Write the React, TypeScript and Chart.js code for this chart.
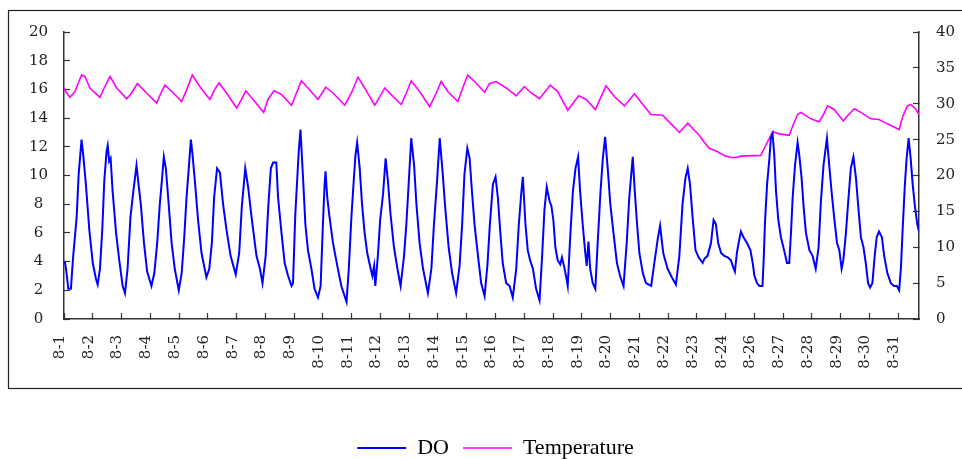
import React, { useEffect, useRef } from "react";
import { Chart, registerables } from "chart.js";

Chart.register(...registerables);

// Category (day) tick labels — note 8-25 is absent on the original axis
const dayLabels = [
  "8-1", "8-2", "8-3", "8-4", "8-5", "8-6", "8-7", "8-8", "8-9", "8-10",
  "8-11", "8-12", "8-13", "8-14", "8-15", "8-16", "8-17", "8-18", "8-19", "8-20",
  "8-21", "8-22", "8-23", "8-24", "8-26", "8-27", "8-28", "8-29", "8-30", "8-31",
];

const seriesNames = ["DO", "Temperature"];

// DO readings: [day position, value] (left axis)
const doPoints: [number, number][] = [
  [0, 3.9], [0.03, 4.0], [0.07, 3.5], [0.15, 2.1], [0.24, 2.1], [0.32, 4.4], [0.44, 7.1], [0.51, 10.1], [0.61, 12.5], [0.67, 11.4], [0.76, 9.4], [0.88, 6.2],
  [1.0, 3.9], [1.11, 2.8], [1.17, 2.4], [1.25, 3.5], [1.33, 6.2], [1.4, 9.6], [1.48, 11.7], [1.52, 12.1], [1.57, 11.0], [1.62, 11.2], [1.69, 8.9], [1.81, 6.0], [1.92, 4.1],
  [2.04, 2.3], [2.12, 1.8], [2.21, 3.5], [2.31, 7.1], [2.41, 8.9], [2.52, 10.7], [2.59, 9.4], [2.67, 8.0], [2.78, 5.3], [2.89, 3.3],
  [3.04, 2.3], [3.14, 3.2], [3.24, 5.3], [3.33, 8.0], [3.4, 9.6], [3.47, 11.3], [3.54, 10.5], [3.62, 8.5], [3.74, 5.3], [3.85, 3.5], [3.99, 2.0],
  [4.09, 3.2], [4.18, 5.7], [4.26, 8.5], [4.33, 10.3], [4.41, 12.5], [4.47, 11.4], [4.55, 9.6], [4.66, 6.9], [4.78, 4.6], [4.95, 2.9],
  [5.05, 3.5], [5.14, 5.3], [5.22, 8.5], [5.32, 10.5], [5.42, 10.2], [5.53, 8.0], [5.65, 6.2], [5.79, 4.4], [5.97, 3.1],
  [6.09, 4.6], [6.18, 7.8], [6.3, 10.5], [6.4, 9.2], [6.52, 7.1], [6.69, 4.4], [6.81, 3.5], [6.9, 2.5],
  [7.01, 4.4], [7.1, 7.8], [7.19, 10.5], [7.27, 10.9], [7.38, 10.9], [7.44, 8.5], [7.56, 6.0], [7.67, 3.9], [7.79, 3.0], [7.91, 2.3], [7.96, 2.5],
  [8.04, 7.3], [8.16, 11.7], [8.22, 13.2], [8.31, 9.8], [8.39, 6.6], [8.48, 4.8], [8.6, 3.5], [8.71, 2.1], [8.83, 1.5], [8.92, 2.3],
  [9.0, 6.6], [9.06, 9.4], [9.09, 10.3], [9.15, 8.5], [9.23, 7.1], [9.35, 5.3], [9.5, 3.7], [9.64, 2.3], [9.82, 1.2], [9.9, 3.5], [9.99, 7.1],
  [10.07, 9.6], [10.13, 11.4], [10.19, 12.3], [10.28, 10.5], [10.36, 8.0], [10.45, 6.0], [10.54, 4.6], [10.66, 3.5], [10.72, 3.0], [10.78, 3.7], [10.82, 2.3], [10.91, 4.4], [10.99, 6.9],
  [11.09, 8.7], [11.18, 11.2], [11.26, 9.6], [11.35, 7.3], [11.47, 5.0], [11.59, 3.5], [11.7, 2.3], [11.82, 4.4], [11.9, 6.6], [11.98, 9.4],
  [12.07, 12.6], [12.17, 10.7], [12.25, 8.0], [12.36, 5.3], [12.48, 3.5], [12.65, 1.8], [12.77, 3.5], [12.86, 6.6], [12.96, 9.4],
  [13.06, 12.6], [13.15, 10.5], [13.25, 7.8], [13.37, 5.0], [13.49, 3.2], [13.63, 1.8], [13.75, 3.7], [13.84, 6.6], [13.92, 10.1],
  [14.02, 11.9], [14.1, 11.2], [14.18, 8.9], [14.27, 6.6], [14.39, 4.4], [14.5, 2.5], [14.62, 1.6], [14.72, 3.8], [14.8, 6.5], [14.91, 9.4],
  [15.0, 9.9], [15.08, 8.5], [15.16, 6.2], [15.25, 3.9], [15.37, 2.5], [15.49, 2.3], [15.6, 1.5], [15.72, 3.5], [15.81, 6.6], [15.9, 8.9], [15.95, 9.9],
  [16.04, 6.6], [16.12, 4.8], [16.2, 4.1], [16.3, 3.5], [16.41, 2.1], [16.53, 1.3], [16.62, 4.4], [16.7, 7.6], [16.78, 9.2], [16.88, 8.2], [16.94, 7.9],
  [17.01, 6.9], [17.08, 5.0], [17.16, 4.1], [17.25, 3.8], [17.31, 4.3], [17.39, 3.6], [17.45, 3.0], [17.51, 2.3], [17.59, 5.5], [17.69, 8.9], [17.78, 10.5], [17.87, 11.3], [17.94, 8.9],
  [18.03, 6.6], [18.11, 4.8], [18.17, 3.7], [18.23, 5.4], [18.29, 3.5], [18.38, 2.5], [18.47, 2.1], [18.55, 5.3], [18.65, 8.9], [18.73, 11.2], [18.81, 12.7], [18.9, 10.5], [18.99, 8.0],
  [19.1, 6.0], [19.22, 3.9], [19.33, 3.0], [19.45, 2.3], [19.56, 5.3], [19.65, 8.5], [19.77, 11.3], [19.84, 8.9], [19.92, 6.6],
  [20.0, 4.6], [20.12, 3.2], [20.23, 2.5], [20.41, 2.3], [20.52, 3.9], [20.64, 5.6], [20.72, 6.5], [20.83, 4.6], [20.98, 3.5],
  [21.13, 2.9], [21.27, 2.4], [21.39, 4.4], [21.5, 8.0], [21.6, 9.8], [21.68, 10.5], [21.76, 9.4], [21.85, 7.1], [21.95, 4.8],
  [22.06, 4.3], [22.2, 3.9], [22.26, 4.2], [22.37, 4.4], [22.49, 5.3], [22.58, 6.9], [22.66, 6.6], [22.74, 5.3], [22.84, 4.6], [22.95, 4.4],
  [23.07, 4.3], [23.18, 4.1], [23.28, 3.5], [23.32, 3.3], [23.39, 4.6], [23.45, 5.3], [23.53, 6.1], [23.62, 5.7], [23.74, 5.3], [23.86, 4.8], [23.94, 3.9],
  [24.0, 3.0], [24.09, 2.5], [24.17, 2.3], [24.28, 2.3], [24.32, 4.1], [24.37, 6.9], [24.44, 9.4], [24.52, 11.2], [24.57, 12.6], [24.63, 12.9], [24.69, 11.4], [24.75, 8.9], [24.83, 6.9], [24.92, 5.7],
  [25.03, 4.8], [25.13, 3.9], [25.21, 3.9], [25.27, 6.0], [25.33, 8.5], [25.41, 10.7], [25.5, 12.3], [25.56, 11.4], [25.64, 9.8], [25.71, 7.8], [25.79, 6.0], [25.91, 4.8],
  [26.02, 4.4], [26.13, 3.5], [26.23, 5.0], [26.31, 8.2], [26.4, 10.7], [26.52, 12.6], [26.6, 10.7], [26.68, 8.9], [26.77, 7.1], [26.87, 5.3], [26.95, 4.8],
  [27.03, 3.5], [27.09, 4.1], [27.18, 6.0], [27.26, 8.2], [27.35, 10.5], [27.44, 11.3], [27.53, 9.8], [27.61, 7.8], [27.7, 5.7], [27.79, 5.0], [27.87, 3.9], [27.95, 2.5],
  [28.02, 2.2], [28.1, 2.5], [28.18, 4.4], [28.25, 5.7], [28.33, 6.1], [28.43, 5.7], [28.51, 4.4], [28.62, 3.2], [28.74, 2.5], [28.85, 2.3], [28.95, 2.3],
  [29.03, 2.0], [29.09, 3.5], [29.16, 6.6], [29.23, 9.4], [29.29, 11.2], [29.36, 12.6], [29.43, 11.2], [29.5, 9.4], [29.57, 8.0], [29.66, 6.6], [29.72, 6.1],
];

// Temperature readings: [day position, value] (right axis)
const tempPoints: [number, number][] = [
  [0, 32.2], [0.09, 31.5], [0.21, 30.9], [0.38, 31.7], [0.61, 34.0], [0.73, 33.8], [0.9, 32.2],
  [1.25, 30.9], [1.42, 32.4], [1.6, 33.8], [1.83, 32.2], [2.18, 30.7], [2.35, 31.5], [2.55, 32.8], [2.87, 31.5],
  [3.22, 30.1], [3.37, 31.5], [3.51, 32.6], [3.8, 31.5], [4.09, 30.3], [4.26, 31.9], [4.46, 34.0], [4.72, 32.4],
  [5.07, 30.6], [5.24, 32.0], [5.39, 32.9], [5.65, 31.5], [6.0, 29.4], [6.17, 30.6], [6.32, 31.8], [6.57, 30.6],
  [6.94, 28.8], [7.09, 30.6], [7.3, 31.8], [7.56, 31.3], [7.91, 29.8], [8.08, 31.5], [8.25, 33.2], [8.48, 32.2],
  [8.83, 30.6], [9.1, 32.3], [9.35, 31.5], [9.76, 29.8], [9.99, 31.5], [10.22, 33.7], [10.45, 32.2], [10.8, 29.8],
  [10.98, 31.0], [11.15, 32.2], [11.44, 31.0], [11.72, 29.9], [11.9, 31.5], [12.07, 33.2], [12.36, 31.7],
  [12.71, 29.6], [12.94, 31.5], [13.11, 33.1], [13.34, 31.7], [13.69, 30.3], [13.86, 32.2], [14.03, 34.0],
  [14.27, 33.1], [14.62, 31.6], [14.79, 32.8], [15.02, 33.1], [15.37, 32.2], [15.72, 31.1], [16.0, 32.4],
  [16.24, 31.5], [16.53, 30.7], [16.9, 32.6], [17.16, 31.7], [17.51, 29.1], [17.89, 31.1], [18.15, 30.6],
  [18.47, 29.2], [18.67, 31.0], [18.84, 32.5], [19.13, 31.0], [19.48, 29.7], [19.83, 31.4], [20.12, 29.9],
  [20.4, 28.5], [20.81, 28.4], [21.1, 27.2], [21.39, 26.0], [21.68, 27.3], [22.08, 25.6], [22.26, 24.6],
  [22.43, 23.8], [22.72, 23.3], [22.95, 22.8], [23.18, 22.5], [23.36, 22.5], [23.53, 22.7], [24.22, 22.8],
  [24.34, 23.8], [24.51, 25.1], [24.63, 26.1], [24.86, 25.8], [25.21, 25.6], [25.33, 26.9], [25.5, 28.5],
  [25.62, 28.8], [25.96, 27.9], [26.25, 27.5], [26.4, 28.5], [26.54, 29.7], [26.77, 29.2], [27.09, 27.6],
  [27.23, 28.3], [27.47, 29.3], [27.7, 28.8], [28.04, 27.9], [28.33, 27.8], [28.62, 27.2], [29.03, 26.4],
  [29.16, 28.3], [29.32, 29.7], [29.43, 29.9], [29.6, 29.3], [29.72, 28.5],
];

const xRange = { min: 0, max: 29.72 };
const leftAxis = { min: 0, max: 20, step: 2 };
const rightAxis = { min: 0, max: 40, step: 5 };

const TICK_FONT = { family: "'DejaVu Serif', serif", size: 15 };
const AXIS_COLOR = "#333";

const framePlugin = {
  id: "outerFrame",
  beforeDraw(chart: any) {
    const ctx = chart.ctx;
    ctx.save();
    ctx.fillStyle = "#ffffff";
    ctx.fillRect(0, 0, chart.width, chart.height);
    ctx.strokeStyle = "#222";
    ctx.lineWidth = 1.2;
    ctx.strokeRect(8.5, 10.5, chart.width + 10, 378);
    ctx.restore();
  },
};

// shifts the legend block so that it sits where the original legend is
const legendShiftPlugin = {
  id: "legendShift",
  afterLayout(chart: any) {
    if (chart.legend) {
      chart.legend.left = 29;
      chart.legend.right = chart.width;
    }
  },
};

export default function App() {
  const canvasRef = useRef<HTMLCanvasElement | null>(null);

  useEffect(() => {
    if (!canvasRef.current) return;
    const chart = new Chart(canvasRef.current, {
      type: "line",
      data: {
        datasets: [
          {
            label: seriesNames[0],
            data: doPoints.map(([x, y]) => ({ x, y })),
            borderColor: "#0000ff",
            backgroundColor: "#0000ff",
            borderWidth: 2,
            pointRadius: 0,
            pointStyle: "line",
            tension: 0,
            yAxisID: "y",
          },
          {
            label: seriesNames[1],
            data: tempPoints.map(([x, y]) => ({ x, y })),
            borderColor: "#ff00ff",
            backgroundColor: "#ff00ff",
            borderWidth: 1.6,
            pointRadius: 0,
            pointStyle: "line",
            tension: 0,
            yAxisID: "y1",
          },
        ],
      },
      options: {
        responsive: false,
        animation: false,
        events: [],
        layout: { padding: { left: 0, right: 0, top: 26, bottom: -10 } },
        plugins: {
          legend: {
            position: "bottom",
            labels: {
              usePointStyle: true,
              pointStyle: "line",
              pointStyleWidth: 49,
              padding: 14,
              color: "#000",
              font: { family: "'Liberation Serif', serif", size: 22 },
            },
          },
          tooltip: { enabled: false },
        },
        scales: {
          x: {
            type: "linear",
            min: xRange.min,
            max: xRange.max,
            afterFit: (s: any) => {
              s.height = 104;
            },
            border: { color: AXIS_COLOR, width: 1.5 },
            grid: { drawOnChartArea: false, tickLength: -6, tickColor: AXIS_COLOR, tickWidth: 1.2 },
            ticks: {
              stepSize: 1,
              autoSkip: false,
              includeBounds: false,
              minRotation: 90,
              maxRotation: 90,
              padding: 22,
              labelOffset: -4,
              color: "#222",
              font: TICK_FONT,
              callback: (v: any) => (Number.isInteger(v) ? dayLabels[v] ?? "" : ""),
            },
          },
          y: {
            position: "left",
            min: leftAxis.min,
            max: leftAxis.max,
            afterFit: (s: any) => {
              s.width = 64;
            },
            border: { color: AXIS_COLOR, width: 1.5 },
            grid: { drawOnChartArea: false, tickLength: -6, tickColor: AXIS_COLOR, tickWidth: 1.2 },
            ticks: { stepSize: leftAxis.step, crossAlign: "center", padding: 22, color: "#222", font: TICK_FONT },
          },
          y1: {
            position: "right",
            min: rightAxis.min,
            max: rightAxis.max,
            afterFit: (s: any) => {
              s.width = 43;
            },
            border: { color: AXIS_COLOR, width: 1.5 },
            grid: { drawOnChartArea: false, tickLength: -6, tickColor: AXIS_COLOR, tickWidth: 1.2 },
            ticks: { stepSize: rightAxis.step, padding: 23, color: "#222", font: TICK_FONT },
          },
        },
      },
      plugins: [framePlugin, legendShiftPlugin],
    } as any);
    return () => chart.destroy();
  }, []);

  return (
    <div style={{ position: "fixed", left: 0, top: 0, width: 962, height: 459, background: "#fff" }}>
      <canvas ref={canvasRef} width={962} height={459} style={{ display: "block", width: 962, height: 459 }} />
    </div>
  );
}
